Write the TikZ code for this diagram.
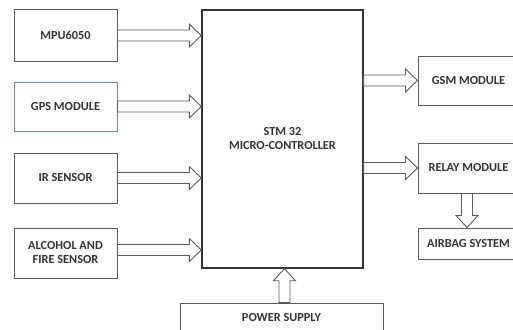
\documentclass[tikz,border=0pt]{standalone}
\usepackage{fontspec}
\setmainfont{Carlito}
\usetikzlibrary{calc}
\definecolor{boxgray}{HTML}{5A5A5A}
\definecolor{txt}{HTML}{333333}
\definecolor{gpsblue}{HTML}{6F86B0}
\tikzset{
  blk/.style={draw=boxgray, line width=1pt, fill=white, rectangle, inner sep=0pt, align=center,
    font=\bfseries\fontsize{12.3}{14}\selectfont, text=txt},
  arr/.style={draw=boxgray, line width=0.9pt, fill=white, line join=miter},
}
% right-pointing block arrow: from point #1 to point #2 (same y)
\newcommand\rarrow[2]{%
  \draw[arr] let \p1=#1, \p2=#2 in
    (\x1,\y1+5.5pt) -- (\x2-12pt,\y1+5.5pt) -- (\x2-12pt,\y1+11.5pt) -- (\x2,\y1)
    -- (\x2-12pt,\y1-11.5pt) -- (\x2-12pt,\y1-5.5pt) -- (\x1,\y1-5.5pt) -- cycle;}
% vertical block arrow: from #1 to #2 (same x), tip at #2
\newcommand\varrow[3]{%
  \draw[arr] let \p1=#1, \p2=#2 in
    (\x1+5.5pt,\y1) -- (\x1+5.5pt,\y2-#3*12pt) -- (\x1+11pt,\y2-#3*12pt) -- (\x1,\y2)
    -- (\x1-11pt,\y2-#3*12pt) -- (\x1-5.5pt,\y2-#3*12pt) -- (\x1-5.5pt,\y1) -- cycle;}
\begin{document}
\begin{tikzpicture}[x=1pt,y=1pt]
\path[use as bounding box, clip] (0,0) rectangle (513,-329);
\fill[white] (0,0) rectangle (513,-329);

\node[blk, minimum width=103pt, minimum height=51pt] (mpu) at (65.5,-35.5) {MPU6050};
\node[blk, draw=gpsblue, minimum width=103pt, minimum height=49pt] (gps) at (65.5,-106.5) {GPS MODULE};
\node[blk, minimum width=103pt, minimum height=50pt] (ir) at (65.5,-178) {IR SENSOR};
\node[blk, minimum width=103pt, minimum height=50pt] (alc) at (65.5,-253) {ALCOHOL AND\\FIRE SENSOR};

\node[blk, draw=txt, line width=1.4pt, minimum width=161pt, minimum height=258pt] (mcu) at (282.5,-139) {STM 32\\MICRO-CONTROLLER};

\node[blk, minimum width=101pt, minimum height=49pt] (gsm) at (468.5,-80.5) {GSM MODULE};
\node[blk, minimum width=101pt, minimum height=50pt] (relay) at (468.5,-168) {RELAY MODULE};
\node[blk, minimum width=101pt, minimum height=31pt] (airbag) at (468.5,-243.5) {AIRBAG SYSTEM};

\node[blk, minimum width=203pt, minimum height=30pt] (pwr) at (281.5,-318) {POWER SUPPLY};

\rarrow{(mpu.east)}{(mpu.east -| mcu.west)}
\rarrow{(gps.east)}{(gps.east -| mcu.west)}
\rarrow{(ir.east)}{(ir.east -| mcu.west)}
\rarrow{([yshift=3pt]alc.east)}{([yshift=3pt]alc.east -| mcu.west)}
\rarrow{(gsm.west -| mcu.east)}{(gsm.west)}
\rarrow{(relay.west -| mcu.east)}{(relay.west)}
\varrow{([xshift=-1.5pt]relay.south)}{([xshift=-1.5pt]relay.south |- airbag.north)}{-1}
\varrow{([xshift=3pt]pwr.north)}{([xshift=3pt]pwr.north |- mcu.south)}{1}
\end{tikzpicture}
\end{document}
